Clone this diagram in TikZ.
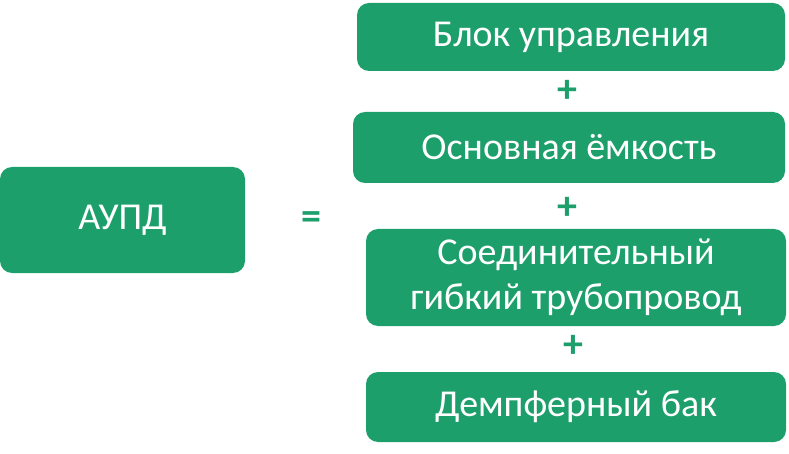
\documentclass[tikz,border=0pt]{standalone}
\usepackage{fontspec}
\setmainfont{Carlito}
\definecolor{boxgreen}{RGB}{29,159,108}
\begin{document}
\begin{tikzpicture}[x=1pt,y=-1pt,
  gbox/.style={draw=none,fill=boxgreen,rounded corners=12pt,text=white,inner sep=0pt,
    font=\fontsize{38}{45}\selectfont,align=center},
  op/.style={text=boxgreen,inner sep=0pt,font=\fontsize{40}{40}\selectfont\bfseries}]
\useasboundingbox (0,0) rectangle (789,454);
\node[gbox,minimum width=245pt,minimum height=106pt] (aupd) at (122.5,220) {АУПД};
\node[op] (eq) at (311,221) {=};
\node[gbox,minimum width=428pt,minimum height=68pt] (b1) at (571,37) {Блок управления};
\node[op] (p1) at (567,91) {+};
\node[gbox,minimum width=432pt,minimum height=71pt] (b2) at (569,147.5) {Основная ёмкость};
\node[op] (p2) at (567,208) {+};
\node[gbox,minimum width=420pt,minimum height=97pt] (b3) at (576,277.5) {Соединительный\\гибкий трубопровод};
\node[op] (p3) at (573,346) {+};
\node[gbox,minimum width=420pt,minimum height=70pt] (b4) at (576,407) {Демпферный бак};
\end{tikzpicture}
\end{document}
